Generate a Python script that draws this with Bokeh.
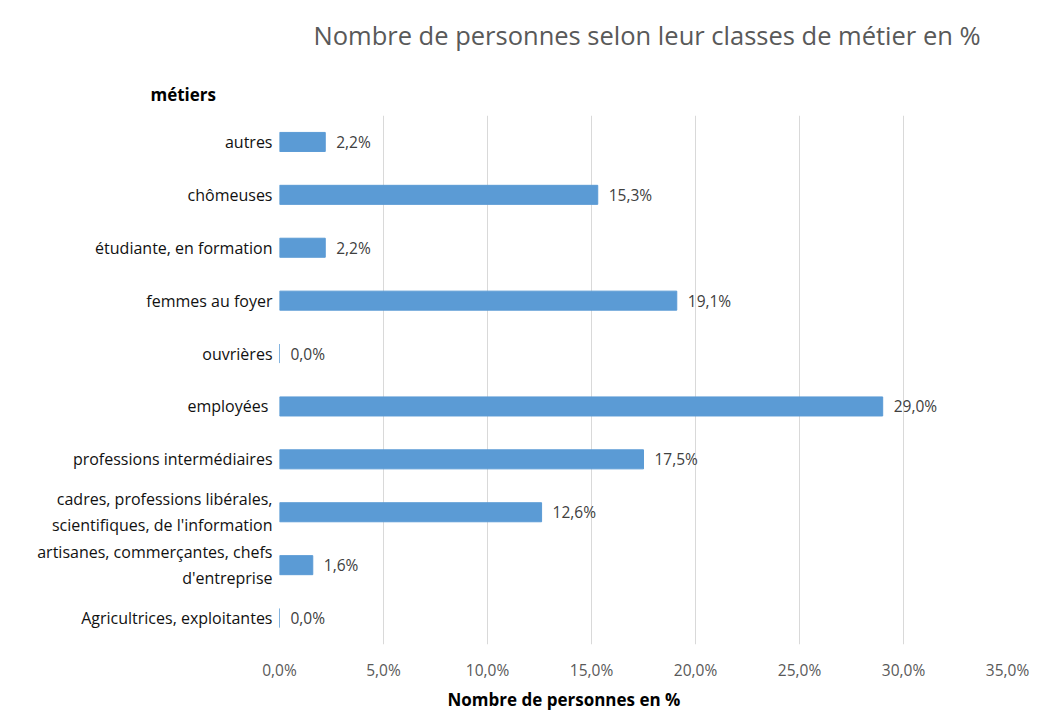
from bokeh.plotting import figure
from bokeh.models import (FactorRange, Range1d, FixedTicker, ColumnDataSource,
                          Title, LabelSet)
from bokeh.core.properties import value
from bokeh.embed import file_html
from bokeh.resources import INLINE

# ---- data (bottom to top) ----
categories = ["Agricultrices, exploitantes",
              "artisanes, commerçantes, chefs\nd'entreprise",
              "cadres, professions libérales,\nscientifiques, de l'information",
              "professions intermédiaires",
              "employées ",
              "ouvrières",
              "femmes au foyer",
              "étudiante, en formation",
              "chômeuses",
              "autres"]
values = [0.0, 1.6, 12.6, 17.5, 29.0, 0.0, 19.1, 2.2, 15.3, 2.2]
tick_values = [0, 5, 10, 15, 20, 25, 30, 35]
tick_labels = ["0,0%", "5,0%", "10,0%", "15,0%", "20,0%", "25,0%", "30,0%", "35,0%"]

title_text = "Nombre de personnes selon leur classes de métier en %"
y_title = "métiers"
x_title = "Nombre de personnes en %"

value_labels = [("%.1f" % v).replace(".", ",") + "%" for v in values]
src = ColumnDataSource(dict(cat=categories, val=values, lab=value_labels))

FONT = "Open Sans"

p = figure(width=1031, height=712, output_backend="svg", toolbar_location=None,
           y_range=FactorRange(*categories), x_range=Range1d(0, 35),
           min_border_left=279, min_border_right=24, min_border_top=112,
           min_border_bottom=67)
p.outline_line_color = None

p.hbar(y="cat", left=0, right="val", height=0.36, source=src,
       fill_color="#5B9BD5", line_color="#5B9BD5")

p.add_layout(LabelSet(x="val", y="cat", text="lab", source=src, x_offset=11,
                      text_baseline="middle", text_align="left",
                      text_font=value(FONT), text_font_size="15.5px",
                      text_color="#404040"))

# axes
p.xaxis.ticker = FixedTicker(ticks=tick_values)
p.xaxis.major_label_overrides = {t: l for t, l in zip(tick_values, tick_labels)}
p.xaxis.axis_line_color = None
p.xaxis.major_tick_line_color = None
p.xaxis.minor_tick_line_color = None
p.xaxis.major_tick_out = 0
p.xaxis.major_tick_in = 0
p.xaxis.minor_tick_out = 0
p.xaxis.major_label_text_font = FONT
p.xaxis.major_label_text_font_size = "15.5px"
p.xaxis.major_label_text_color = "#595959"
p.xaxis.major_label_standoff = 14

p.yaxis.axis_line_color = None
p.yaxis.major_tick_line_color = None
p.yaxis.major_tick_out = 0
p.yaxis.major_tick_in = 0
p.yaxis.major_label_text_font = FONT
p.yaxis.major_label_text_font_size = "16px"
p.yaxis.major_label_text_color = "#111111"
p.yaxis.major_label_standoff = 7

p.ygrid.grid_line_color = None
p.xgrid.grid_line_color = "#D9D9D9"
p.xgrid.grid_line_width = 1

# titles (p.title is outermost)
p.title.text = title_text
p.title.align = "left"
p.title.offset = 34
p.title.text_font = FONT
p.title.text_font_size = "25.5px"
p.title.text_font_style = "normal"
p.title.text_color = "#595959"
p.title.text_line_height = 0.7
p.title.vertical_align = "top"
p.title.standoff = 34

yt = Title(text=y_title, align="left", offset=-129, text_font=FONT,
           text_font_size="17px", text_font_style="bold", text_color="#000000",
           standoff=20)
p.add_layout(yt, "above")

xt = Title(text=x_title, align="left", offset=168, text_font=FONT,
           text_font_size="17px", text_font_style="bold", text_color="#000000",
           standoff=4, text_line_height=0.8)
p.add_layout(xt, "below")

open("out.html", "w").write(file_html(p, INLINE))
